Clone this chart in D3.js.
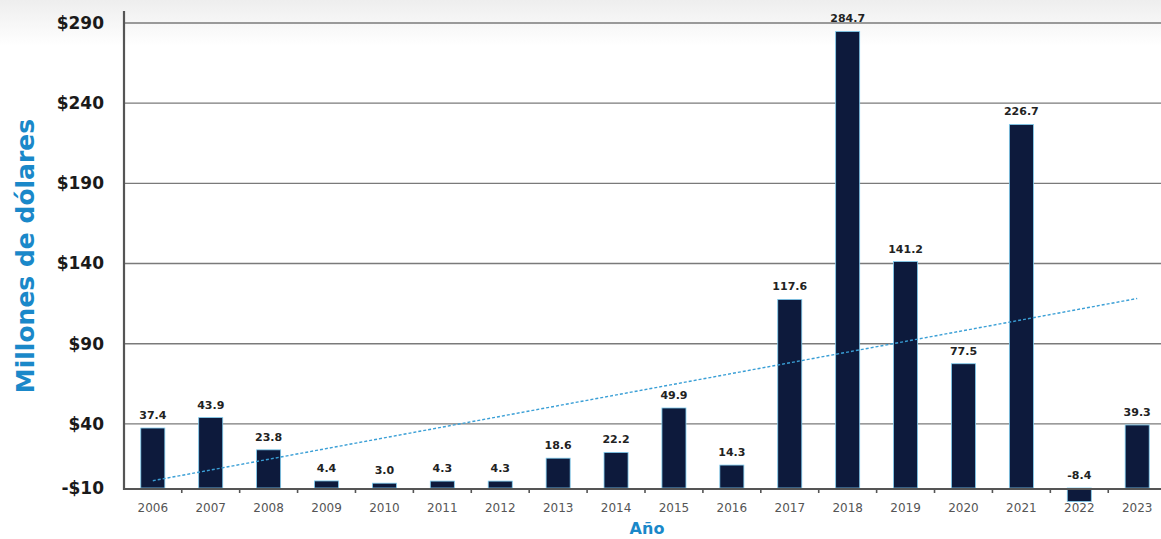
<!DOCTYPE html>
<html>
<head>
<meta charset="utf-8">
<script src="https://cdn.jsdelivr.net/npm/d3@7"></script>
<style>
  html, body { margin: 0; padding: 0; background: #fff; }
  svg { display: block; font-family: "DejaVu Sans", "Noto Sans", sans-serif; }
</style>
</head>
<body>
<svg id="chart" width="1161" height="539"></svg>
<script>
// Annual amounts, millions of dollars
const years = ["2006","2007","2008","2009","2010","2011","2012","2013","2014","2015","2016","2017","2018","2019","2020","2021","2022","2023"];
const values = [37.4, 43.9, 23.8, 4.4, 3.0, 4.3, 4.3, 18.6, 22.2, 49.9, 14.3, 117.6, 284.7, 141.2, 77.5, 226.7, -8.4, 39.3];
const yTickValues = [0, 40, 90, 140, 190, 240, 290];
const yTickLabels = ["-$10", "$40", "$90", "$140", "$190", "$240", "$290"];

const svg = d3.select("#chart");
const W = 1161, H = 539;
const left = 124, right = 1166, baseY = 488;
const font = "'DejaVu Sans', sans-serif";

// soft grey band across the top
const defs = svg.append("defs");
const grad = defs.append("linearGradient").attr("id", "topFade").attr("x1", 0).attr("y1", 0).attr("x2", 0).attr("y2", 1);
grad.append("stop").attr("offset", "0%").attr("stop-color", "#eeeeee");
grad.append("stop").attr("offset", "100%").attr("stop-color", "#ffffff");
svg.append("rect").attr("x", 0).attr("y", 0).attr("width", W).attr("height", 46).attr("fill", "url(#topFade)");

const x = d3.scaleBand().domain(years).range([left, right]).paddingInner(0.585).paddingOuter(0.29);
const y = d3.scaleLinear().domain([0, 290]).range([baseY, 23]);

// horizontal gridlines
svg.append("g")
  .selectAll("line")
  .data(yTickValues.filter(v => v !== 0))
  .join("line")
  .attr("x1", left).attr("x2", W)
  .attr("y1", d => y(d)).attr("y2", d => y(d))
  .attr("stroke", "#7a7a7a").attr("stroke-width", 1.4);

// y tick labels
const yAxis = d3.axisLeft(y).tickValues(yTickValues)
  .tickFormat((d, i) => yTickLabels[i]).tickSize(0).tickPadding(20);
const gy = svg.append("g").attr("transform", `translate(${left},0)`).call(yAxis);
gy.select(".domain").remove();
gy.selectAll("text")
  .attr("font-size", 17).attr("font-weight", 700).attr("fill", "#1a1a1a")
  .attr("font-family", font);

// bars
svg.append("g")
  .selectAll("rect")
  .data(values)
  .join("rect")
  .attr("x", (d, i) => x(years[i]))
  .attr("width", x.bandwidth())
  .attr("y", d => y(Math.max(0, d)))
  .attr("height", d => Math.abs(y(d) - y(0)))
  .attr("fill", "#0d1a3c")
  .attr("stroke", "#7fcdf0").attr("stroke-width", 0.8);

// value labels
svg.append("g")
  .selectAll("text")
  .data(values)
  .join("text")
  .attr("x", (d, i) => x(years[i]) + x.bandwidth() / 2)
  .attr("y", d => y(Math.max(0, d)) - 9)
  .attr("text-anchor", "middle")
  .attr("font-size", 11).attr("font-weight", 700).attr("fill", "#222")
  .attr("font-family", font)
  .text(d => d.toFixed(1));

// least-squares trend line
const n = values.length;
const xs = d3.range(n);
const mx = d3.mean(xs), my = d3.mean(values);
const slope = d3.sum(xs, i => (i - mx) * (values[i] - my)) / d3.sum(xs, i => (i - mx) * (i - mx));
const intercept = my - slope * mx;
const cx = i => x(years[i]) + x.bandwidth() / 2;
svg.append("line")
  .attr("x1", cx(0)).attr("y1", y(intercept))
  .attr("x2", cx(n - 1)).attr("y2", y(intercept + slope * (n - 1)))
  .attr("stroke", "#3a9fd6").attr("stroke-width", 1.4)
  .attr("stroke-dasharray", "3,2");

// x axis
const xAxis = d3.axisBottom(x).tickSize(0).tickPadding(15);
const gx = svg.append("g").attr("transform", `translate(0,${baseY})`).call(xAxis);
gx.select(".domain").remove();
gx.selectAll("text").attr("font-size", 12).attr("fill", "#555")
  .attr("font-family", font);

svg.append("line").attr("x1", left).attr("x2", W).attr("y1", baseY + 1).attr("y2", baseY + 1)
  .attr("stroke", "#555").attr("stroke-width", 2.2);
// category separators under the axis
svg.append("g").selectAll("line")
  .data(years.slice(1))
  .join("line")
  .attr("x1", d => x(d) - x.step() * x.paddingInner() / 2)
  .attr("x2", d => x(d) - x.step() * x.paddingInner() / 2)
  .attr("y1", baseY + 1).attr("y2", baseY + 5)
  .attr("stroke", "#555").attr("stroke-width", 1.6);

// y axis line
svg.append("line").attr("x1", left).attr("x2", left).attr("y1", 11).attr("y2", baseY + 2)
  .attr("stroke", "#555").attr("stroke-width", 2.2);

// axis titles
svg.append("text")
  .attr("transform", `translate(34,${(115 + 397) / 2}) rotate(-90)`)
  .attr("text-anchor", "middle")
  .attr("font-size", 25).attr("font-weight", 700).attr("fill", "#1a88c9")
  .attr("font-family", font)
  .text("Millones de dólares");

svg.append("text")
  .attr("x", 647).attr("y", 534)
  .attr("text-anchor", "middle")
  .attr("font-size", 16).attr("font-weight", 700).attr("fill", "#1a88c9")
  .attr("font-family", font)
  .text("Año");
</script>
</body>
</html>
